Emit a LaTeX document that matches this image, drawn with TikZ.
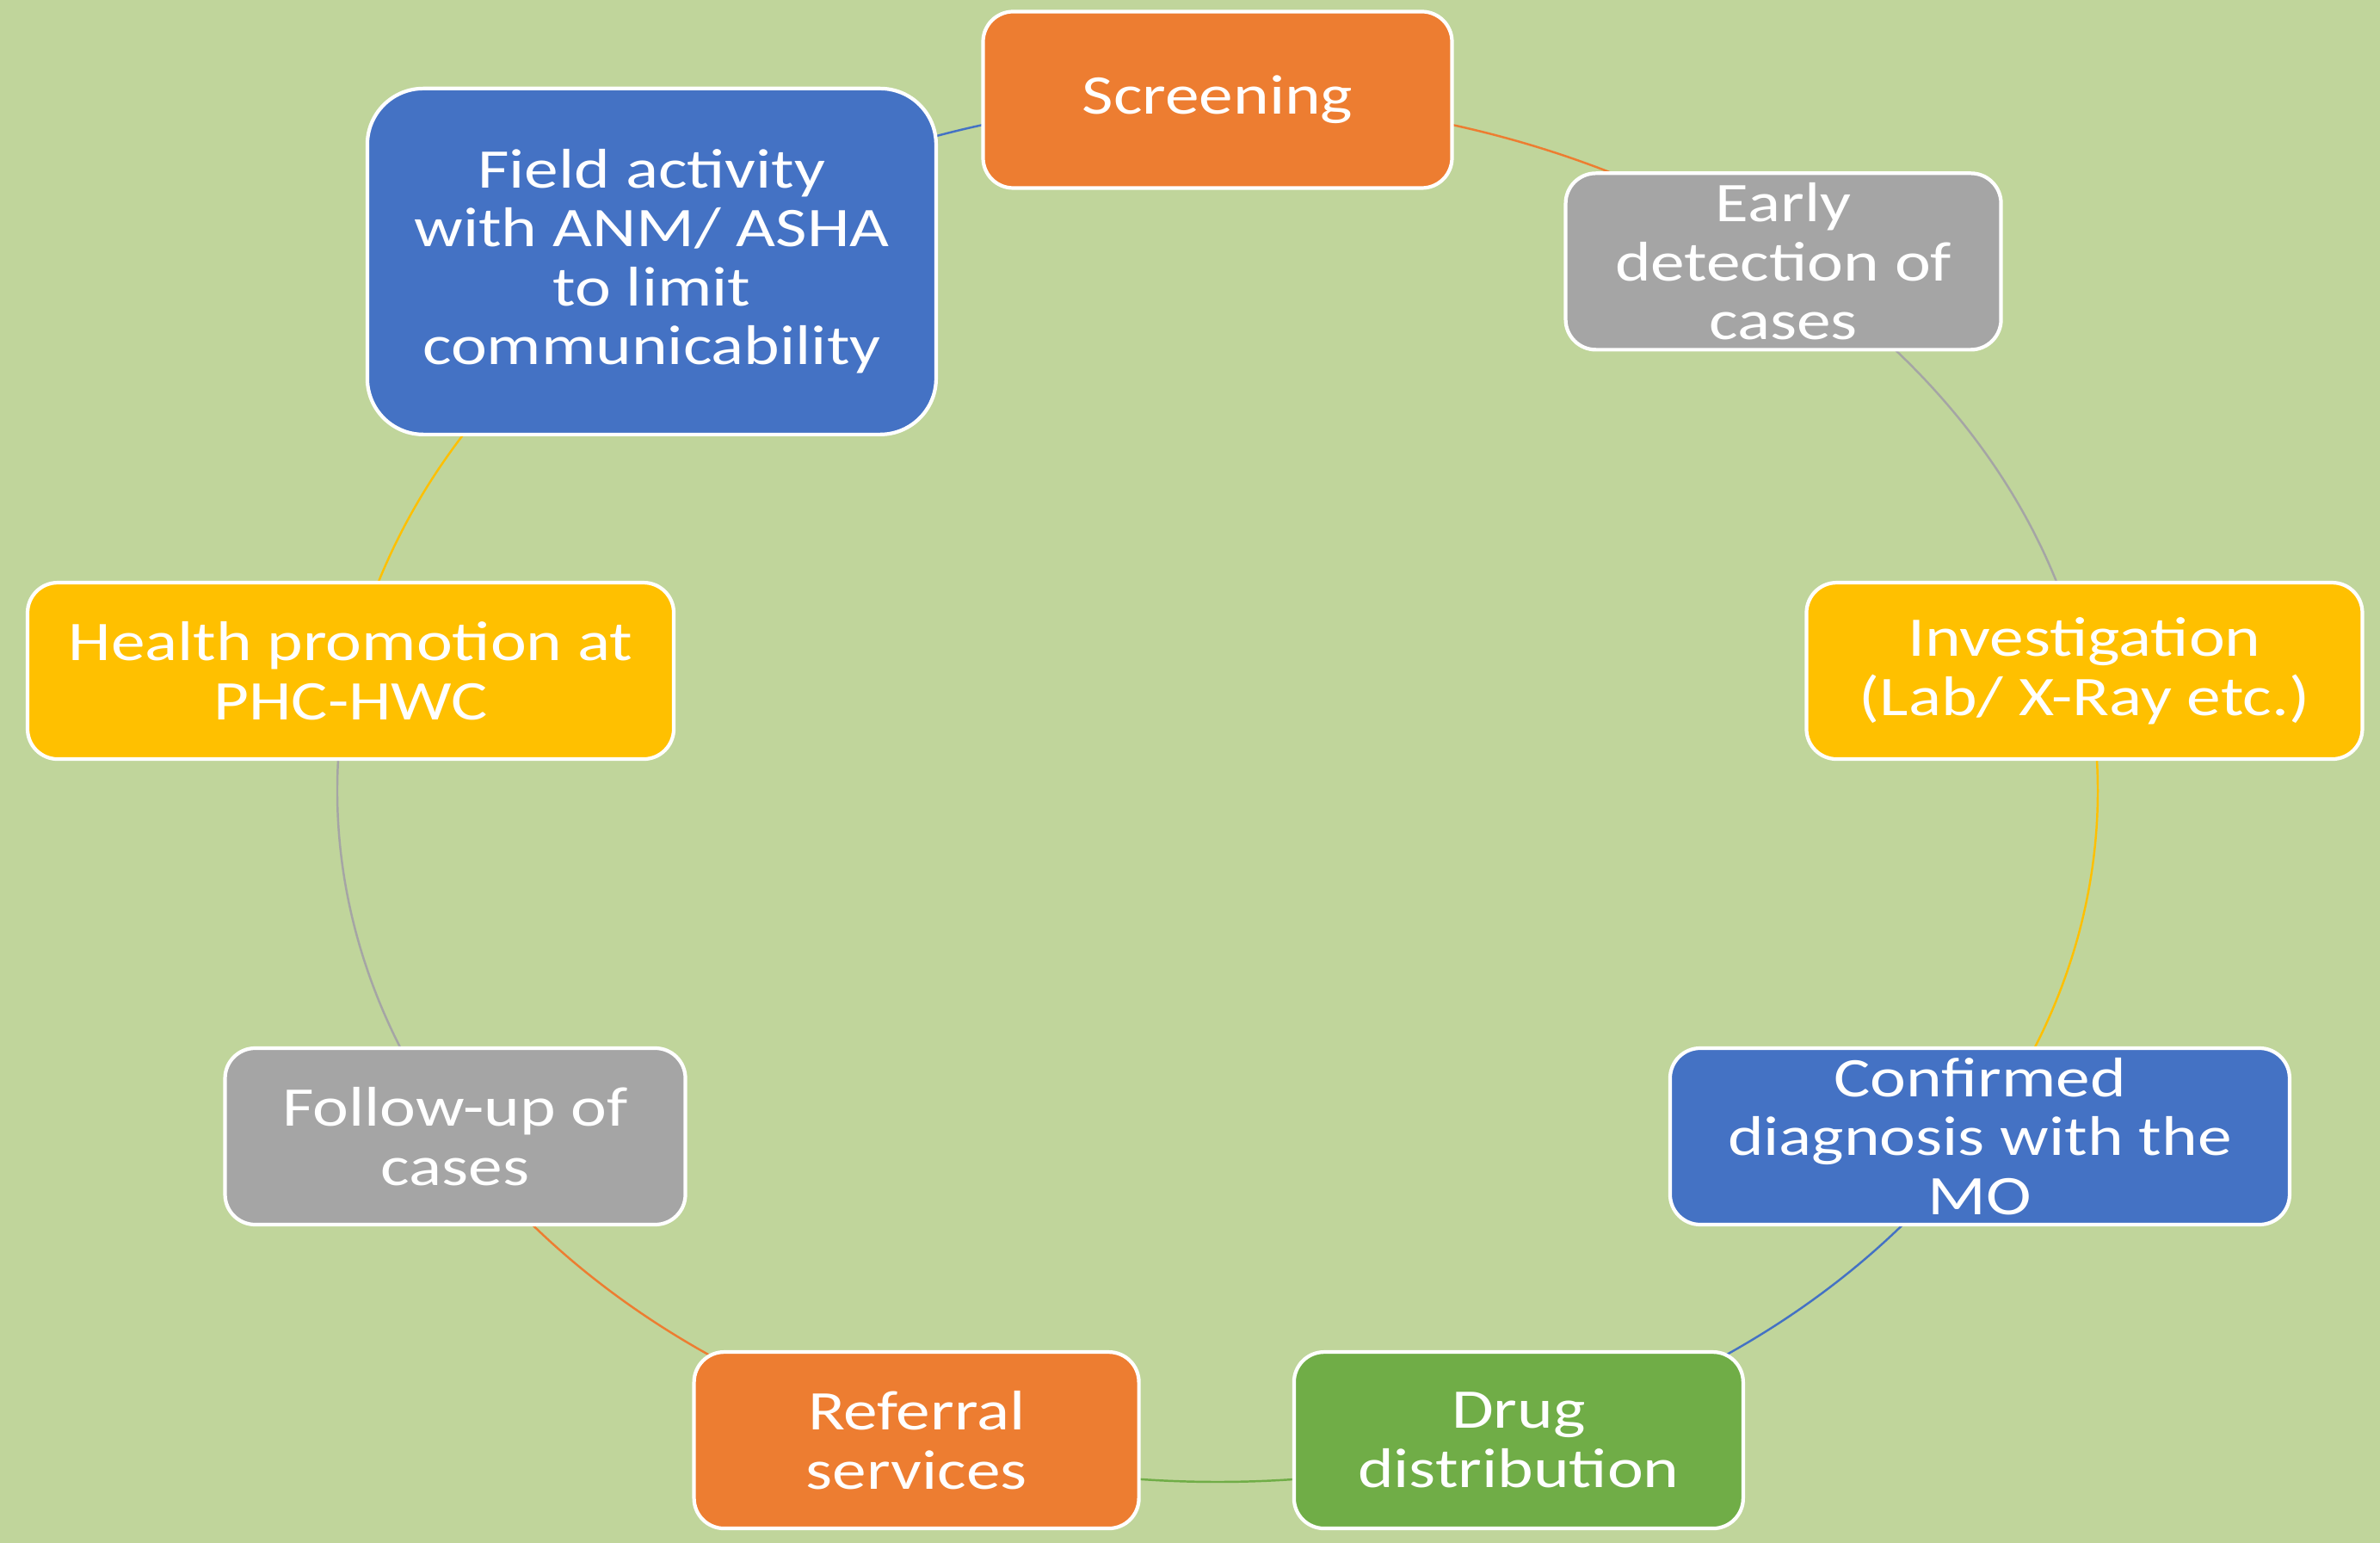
\documentclass[tikz,border=0pt]{standalone}
\usepackage{fontspec}
\setmainfont{Carlito}[FakeStretch=1.22]
\usetikzlibrary{backgrounds}
\definecolor{bggreen}{RGB}{192,213,155}
\definecolor{orng}{RGB}{237,125,49}
\definecolor{gry}{RGB}{165,165,165}
\definecolor{yllw}{RGB}{255,192,0}
\definecolor{blu}{RGB}{68,114,196}
\definecolor{grn}{RGB}{112,173,71}
\begin{document}
\begin{tikzpicture}[
		box/.style={draw=white, line width=1.2pt, rounded corners=0.35cm, text=white, align=center,
			minimum height=2.05cm, inner ysep=0pt, inner xsep=2pt, font=\fontsize{18.5}{19.5}\selectfont},
		link/.style={line width=0.7pt}]
			\useasboundingbox (-14.15,-8.74) rectangle (13.51,9.19);

			\draw node[box, fill=orng, minimum width=5.45cm] (1) at (90:10.23cm and 8.03cm) {Screening};
			\draw node[box, fill=gry, minimum width=5.06cm] (2) at (50:10.23cm and 8.03cm) {Early\\detection of\\cases};
			\draw node[box, fill=yllw, minimum width=6.46cm] (3) at (10:10.23cm and 8.03cm) {Investigation\\(Lab/ X-Ray etc.)};
			\draw node[box, fill=blu, minimum width=7.20cm] (4) at (-30:10.23cm and 8.03cm) {Confirmed\\diagnosis with the\\MO};
			\draw node[box, fill=grn, minimum width=5.22cm] (5) at (-70:10.23cm and 8.03cm) {Drug\\distribution};
			\draw node[box, fill=orng, minimum width=5.17cm] (6) at (-110:10.23cm and 8.03cm) {Referral\\services};
			\draw node[box, fill=gry, minimum width=5.35cm] (7) at (-150:10.23cm and 8.03cm) {Follow-up of\\cases};
			\draw node[box, fill=yllw, minimum width=7.51cm] (8) at (170:10.23cm and 8.03cm) {Health promotion at\\PHC-HWC};
			\draw node[box, fill=blu, minimum width=6.61cm, minimum height=4.02cm, rounded corners=0.65cm] (9) at (130:10.23cm and 8.03cm) {Field activity\\with ANM/ ASHA\\to limit\\communicability};

			\begin{pgfonlayer}{background}
			\fill[bggreen] (-14.15,-8.74) rectangle (13.51,9.19);
			\draw[link, orng] (1.center) arc[start angle=90, end angle=50, x radius=10.23, y radius=8.03];
			\draw[link, gry] (2.center) arc[start angle=50, end angle=10, x radius=10.23, y radius=8.03];
			\draw[link, yllw] (3.center) arc[start angle=10, end angle=-30, x radius=10.23, y radius=8.03];
			\draw[link, blu] (4.center) arc[start angle=-30, end angle=-70, x radius=10.23, y radius=8.03];
			\draw[link, grn] (5.center) arc[start angle=-70, end angle=-110, x radius=10.23, y radius=8.03];
			\draw[link, orng] (6.center) arc[start angle=-110, end angle=-150, x radius=10.23, y radius=8.03];
			\draw[link, gry] (7.center) arc[start angle=-150, end angle=-190, x radius=10.23, y radius=8.03];
			\draw[link, yllw] (8.center) arc[start angle=170, end angle=130, x radius=10.23, y radius=8.03];
			\draw[link, blu] (9.center) arc[start angle=130, end angle=90, x radius=10.23, y radius=8.03];
			\end{pgfonlayer}
		\end{tikzpicture}
\end{document}
